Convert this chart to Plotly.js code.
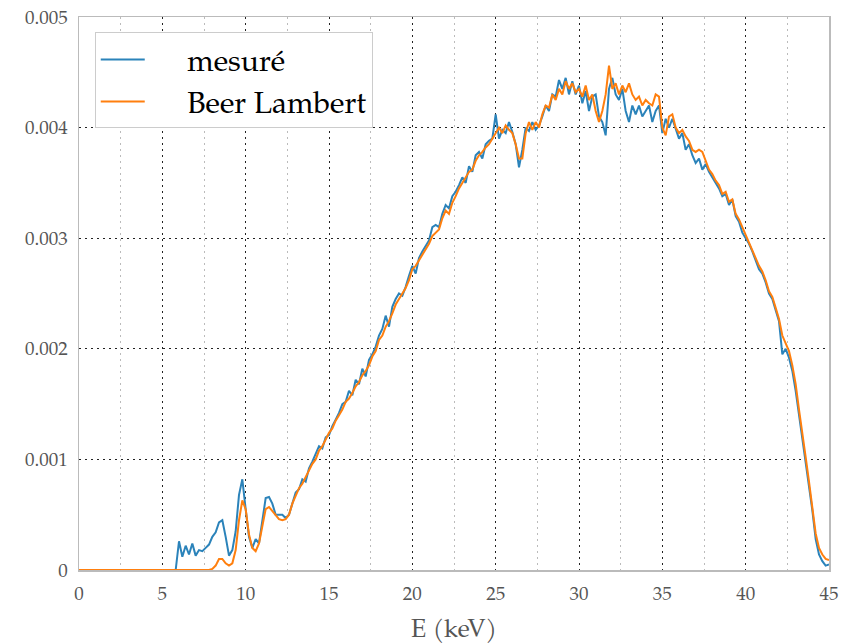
<!DOCTYPE html>
<html>
<head>
<meta charset="utf-8">
<script src="https://cdn.plot.ly/plotly-3.0.1.min.js"></script>
<style>html,body{margin:0;padding:0;background:#fff;}#chart{width:843px;height:644px;}</style>
</head>
<body>
<div id="chart"></div>
<script>
// Energy grid (keV): 0 to 45 in 0.2 keV bins
const E_START = 0, E_STEP = 0.2, N_BINS = 226;
// Spectra values in units of 1e-3
const mesure = [
0,0,0,0,0,0,0,0,0,0,
0,0,0,0,0,0,0,0,0,0,
0,0,0,0,0,0,0,0,0,0,
0.26,0.12,0.22,0.14,0.24,0.13,0.18,0.17,0.2,0.23,
0.3,0.34,0.43,0.45,0.3,0.13,0.18,0.35,0.68,0.82,
0.55,0.3,0.2,0.28,0.24,0.45,0.65,0.66,0.6,0.5,
0.5,0.5,0.47,0.5,0.6,0.7,0.73,0.82,0.8,0.92,
0.98,1.05,1.12,1.1,1.2,1.22,1.3,1.36,1.42,1.5,
1.52,1.62,1.58,1.72,1.68,1.82,1.75,1.9,1.95,2.02,
2.12,2.18,2.3,2.2,2.38,2.45,2.5,2.48,2.56,2.66,
2.75,2.68,2.82,2.88,2.93,2.98,3.1,3.12,3.1,3.22,
3.3,3.27,3.38,3.42,3.48,3.55,3.5,3.65,3.6,3.75,
3.78,3.72,3.85,3.88,3.9,4.12,3.9,3.98,3.95,4.05,
3.96,3.85,3.64,3.8,4.0,3.97,4.05,3.98,4.02,4.1,
4.2,4.15,4.3,4.28,4.43,4.35,4.45,4.3,4.42,4.3,
4.38,4.22,4.33,4.15,4.28,4.3,4.1,4.05,3.93,4.35,
4.45,4.3,4.25,4.35,4.15,4.05,4.2,4.12,4.2,4.1,
4.15,4.2,4.05,4.15,4.2,3.95,4.08,4.0,4.08,3.98,
3.9,3.95,3.8,3.85,3.75,3.68,3.72,3.62,3.67,3.6,
3.55,3.5,3.45,3.38,3.4,3.3,3.35,3.2,3.15,3.05,
3.0,2.95,2.88,2.8,2.72,2.68,2.6,2.5,2.45,2.35,
2.25,1.95,2.0,1.92,1.8,1.62,1.4,1.2,0.99,0.78,
0.54,0.28,0.14,0.08,0.04,0.05
];
const beerLambert = [
0,0,0,0,0,0,0,0,0,0,
0,0,0,0,0,0,0,0,0,0,
0,0,0,0,0,0,0,0,0,0,
0,0,0,0,0,0,0,0,0,0,
0.01,0.04,0.1,0.1,0.06,0.04,0.06,0.18,0.45,0.63,
0.55,0.32,0.2,0.17,0.24,0.4,0.55,0.57,0.53,0.5,
0.46,0.45,0.46,0.5,0.6,0.67,0.74,0.78,0.84,0.9,
0.96,1.0,1.08,1.12,1.18,1.24,1.28,1.35,1.4,1.45,
1.52,1.55,1.6,1.66,1.7,1.76,1.8,1.85,1.93,1.98,
2.08,2.12,2.2,2.25,2.32,2.4,2.45,2.5,2.55,2.62,
2.72,2.75,2.8,2.85,2.9,2.95,3.02,3.05,3.08,3.18,
3.25,3.22,3.32,3.38,3.45,3.5,3.55,3.6,3.62,3.7,
3.75,3.78,3.82,3.85,3.9,3.95,4.0,3.95,4.02,3.98,
3.95,3.85,3.72,3.72,3.95,4.05,3.98,4.05,4.0,4.12,
4.2,4.18,4.3,4.25,4.35,4.3,4.42,4.35,4.4,4.32,
4.35,4.28,4.38,4.25,4.3,4.15,4.05,4.15,4.3,4.56,
4.35,4.4,4.3,4.38,4.32,4.4,4.3,4.25,4.28,4.2,
4.25,4.22,4.2,4.3,4.28,4.0,3.93,4.1,4.12,4.0,
3.95,3.98,3.92,3.88,3.8,3.78,3.8,3.78,3.7,3.62,
3.58,3.52,3.48,3.4,3.42,3.33,3.35,3.22,3.17,3.1,
3.03,2.97,2.9,2.82,2.75,2.7,2.62,2.52,2.47,2.37,
2.27,2.12,2.05,1.98,1.85,1.68,1.45,1.25,1.02,0.8,
0.57,0.33,0.2,0.14,0.1,0.09
];
const seriesNames = ['mesuré', 'Beer Lambert'];
const xTickVals = [0,5,10,15,20,25,30,35,40,45];
const yTickVals = [0,0.001,0.002,0.003,0.004,0.005];
const UNIT = 1e-3;

const energies = [];
for (let i = 0; i < N_BINS; i++) energies.push(+(E_START + i * E_STEP).toFixed(2));

const FONT = '"TeX Gyre Pagella", "Palatino Linotype", Palatino, "Liberation Serif", serif';
const PAD = '\u00a0\u00a0\u00a0\u00a0\u00a0';

const traces = [
  {x: energies, y: mesure.map(v => v * UNIT), name: PAD + seriesNames[0], type: 'scatter', mode: 'lines',
   line: {color: '#2b83ba', width: 2}},
  {x: energies, y: beerLambert.map(v => v * UNIT), name: PAD + seriesNames[1], type: 'scatter', mode: 'lines',
   line: {color: '#ff7f0e', width: 2}}
];

const layout = {
  width: 843, height: 644,
  margin: {l: 79, r: 14, t: 17, b: 74},
  paper_bgcolor: '#fff', plot_bgcolor: '#fff',
  font: {family: FONT, color: '#555', size: 19},
  showlegend: true,
  legend: {x: 0.021, y: 0.972, xanchor: 'left', yanchor: 'top',
    bgcolor: '#fff', bordercolor: '#cccccc', borderwidth: 1,
    font: {family: FONT, size: 30, color: '#000'}, itemwidth: 44, tracegroupgap: 0},
  xaxis: {
    range: [0, 45], tickvals: xTickVals, showline: true, mirror: true,
    linecolor: '#bbbbbb', linewidth: 1.5, zeroline: false, ticks: '',
    showgrid: true, gridcolor: '#222', gridwidth: 1, griddash: '2px,4px',
    minor: {dtick: 2.5, showgrid: true, gridcolor: '#bbbbbb', gridwidth: 1, griddash: '2px,4px', ticks: ''},
    title: {text: 'E (keV)', font: {family: FONT, size: 25, color: '#555'}, standoff: 20},
    tickfont: {family: FONT, size: 19, color: '#555'}, ticklabelstandoff: 6
  },
  yaxis: {
    range: [0, 0.005], tickvals: yTickVals, showline: true, mirror: true,
    linecolor: '#bbbbbb', linewidth: 1.5, zeroline: false, ticks: '',
    showgrid: true, gridcolor: '#222', gridwidth: 1, griddash: '2px,4px',
    tickfont: {family: FONT, size: 19, color: '#555'}, ticklabelstandoff: 6
  }
};

Plotly.newPlot('chart', traces, layout, {displayModeBar: false, staticPlot: true});
</script>
</body>
</html>
